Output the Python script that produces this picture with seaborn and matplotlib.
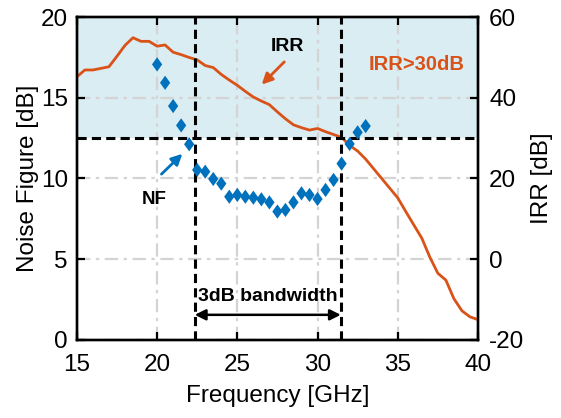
import numpy as np
import pandas as pd
import matplotlib
matplotlib.use("Agg")
import matplotlib.pyplot as plt
import seaborn as sns

# ---- data ----
nf_freq = [20.0, 20.5, 21.0, 21.5, 22.0, 22.5, 23.0, 23.5, 24.0, 24.5, 25.0, 25.5, 26.0,
           26.5, 27.0, 27.5, 28.0, 28.5, 29.0, 29.5, 30.0, 30.5, 31.0, 31.5, 32.0, 32.5, 33.0]
nf_db = [17.07, 15.93, 14.49, 13.29, 12.12, 10.53, 10.42, 9.97, 9.68, 8.87, 8.98, 8.87, 8.81,
         8.71, 8.52, 7.95, 8.05, 8.52, 9.08, 8.98, 8.73, 9.29, 9.91, 10.92, 12.14, 12.86, 13.25]

irr_freq = [15.0, 15.5, 16.0, 16.5, 17.0, 17.5, 18.0, 18.5, 19.0, 19.5, 20.0, 20.5, 21.0,
            21.5, 22.0, 22.5, 23.0, 23.5, 24.0, 24.5, 25.0, 25.5, 26.0, 26.5, 27.0, 27.5,
            28.0, 28.5, 29.0, 29.5, 30.0, 30.5, 31.0, 31.5, 32.0, 32.5, 33.0, 33.5, 34.0,
            34.5, 35.0, 35.5, 36.0, 36.5, 37.0, 37.5, 38.0, 38.5, 39.0, 39.5, 40.0]
irr_db = [45.2, 46.9, 46.9, 47.3, 47.7, 50.3, 53.0, 54.9, 54.0, 54.0, 52.8, 53.1, 51.3,
          50.7, 50.0, 49.4, 48.0, 47.5, 45.8, 44.4, 43.1, 41.6, 40.2, 39.2, 38.3, 36.5,
          34.8, 33.3, 32.6, 32.0, 32.4, 31.6, 30.9, 30.2, 28.2, 26.8, 24.8, 22.4, 20.0,
          17.6, 15.2, 11.8, 8.5, 5.2, 0.5, -3.5, -5.2, -9.8, -12.8, -14.3, -15.0]

bw_low, bw_high = 22.35, 31.45
irr_threshold = 30
x_ticks = [15, 20, 25, 30, 35, 40]
nf_ticks = [0, 5, 10, 15, 20]
irr_ticks = [-20, 0, 20, 40, 60]

nf_df = pd.DataFrame({"freq": nf_freq, "nf": nf_db})
irr_df = pd.DataFrame({"freq": irr_freq, "irr": irr_db})

# ---- style ----
sns.set_style("white")
plt.rcParams["font.family"] = ["Liberation Sans", "DejaVu Sans"]
plt.rcParams["axes.unicode_minus"] = False
for k in ["text.color", "axes.labelcolor", "xtick.color", "ytick.color", "axes.edgecolor"]:
    plt.rcParams[k] = "black"

orange = "#D95319"
blue = "#0072BD"
shade = "#DAEDF3"
fs = 17.5

fig = plt.figure(figsize=(5.61, 4.18), dpi=100)
ax = fig.add_axes([0.137, 0.187, 0.715, 0.772])
ax2 = ax.twinx()
ax.set_zorder(ax2.get_zorder() + 1)
ax.patch.set_visible(False)

# ax2: shading, grid and IRR curve
ax2.axhspan(irr_threshold, 60, color=shade, zorder=0, lw=0)
sns.lineplot(data=irr_df, x="freq", y="irr", ax=ax2, color=orange, lw=2.0, zorder=3)
ax2.set_ylim(-20, 60)
ax2.set_yticks(irr_ticks)
ax2.set_ylabel("IRR [dB]", fontsize=fs, labelpad=5)
ax2.xaxis.set_visible(True)
ax2.tick_params(axis="x", bottom=False, top=False, labelbottom=False, labeltop=False)
ax2.set_xlabel("")
ax2.grid(True, color="#d4d4d4", ls=(0, (6, 2.5, 1.5, 2.5)), lw=1.6, zorder=1)
ax2.set_axisbelow(True)

# ax: NF markers, dashed lines, annotations
diamond = [(0, 1), (0.72, 0), (0, -1), (-0.72, 0), (0, 1)]
sns.scatterplot(data=nf_df, x="freq", y="nf", ax=ax, marker=diamond, s=105, color=blue,
                edgecolor="none", zorder=5)
ax.set_xlim(15, 40)
ax.set_ylim(0, 20)
ax.set_xticks(x_ticks)
ax.set_yticks(nf_ticks)
ax.set_xlabel("Frequency [GHz]", fontsize=fs, labelpad=7)
ax.set_ylabel("Noise Figure [dB]", fontsize=fs, labelpad=1)

thr_nf = (irr_threshold + 20) / 80 * 20
dash = (0, (3.0, 1.7))
ax.axhline(thr_nf, color="black", ls=dash, lw=2.2, zorder=4)
ax.axvline(bw_low, color="black", ls=dash, lw=2.2, zorder=4)
ax.axvline(bw_high, color="black", ls=dash, lw=2.2, zorder=4)

for a in (ax, ax2):
    a.tick_params(direction="in", length=6, width=1.6, labelsize=fs, pad=6.5)
    for s in a.spines.values():
        s.set_linewidth(1.7)
        s.set_color("black")
ax.tick_params(axis="x", pad=10)
ax.tick_params(top=True, bottom=True, left=True, right=False)
ax2.tick_params(axis="y", right=True, left=False, pad=8)

ax.text(28.1, 18.15, "IRR", fontsize=14, fontweight="bold", ha="center", va="center")
ax.annotate("", xy=(26.4, 15.7), xytext=(28.05, 17.35),
            arrowprops=dict(arrowstyle="-|>", color=orange, lw=2, mutation_scale=16))
ax.text(36.2, 17.05, "IRR>30dB", fontsize=14.5, fontweight="bold", color=orange,
        ha="center", va="center")
ax.text(19.8, 8.7, "NF", fontsize=13.5, fontweight="bold", ha="center", va="center")
ax.annotate("", xy=(21.7, 11.65), xytext=(20.15, 10.15),
            arrowprops=dict(arrowstyle="-|>", color=blue, lw=2, mutation_scale=16))
ax.text((bw_low + bw_high) / 2, 2.7, "3dB bandwidth", fontsize=14, fontweight="bold",
        ha="center", va="center")
ax.annotate("", xy=(bw_low, 1.55), xytext=(bw_high, 1.55),
            arrowprops=dict(arrowstyle="<|-|>", color="black", lw=1.8, mutation_scale=16,
                            shrinkA=0, shrinkB=0))

fig.savefig("out.png", dpi=100)
